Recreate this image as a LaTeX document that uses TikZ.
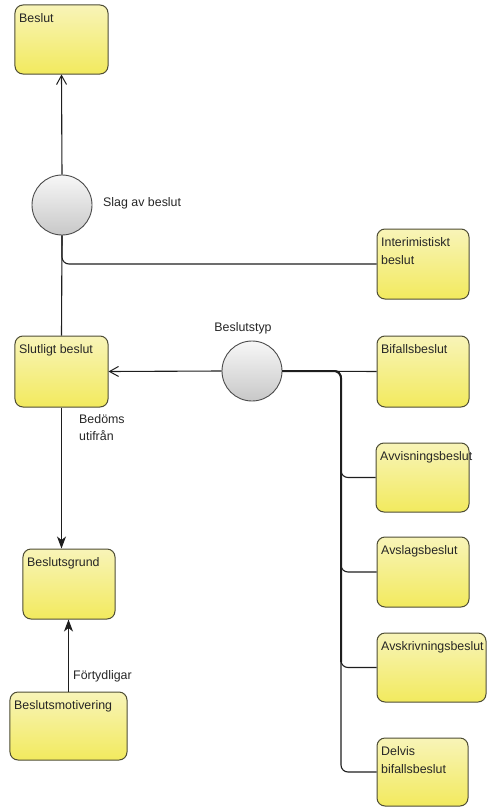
\documentclass[tikz,border=0pt]{standalone}
\usepackage{fontspec}
\setmainfont{Liberation Sans}
\usetikzlibrary{arrows.meta}
\definecolor{boxborder}{HTML}{4E4D35}
\definecolor{ylight}{HTML}{F8F4B8}
\definecolor{ydark}{HTML}{F2EA5E}
\definecolor{glight}{HTML}{F7F7F7}
\definecolor{gdark}{HTML}{C8C8C8}
\definecolor{linec}{HTML}{1E1E1E}
\tikzset{
  box/.style={draw=boxborder, line width=1bp, rounded corners=8bp,
    top color=ylight, bottom color=ydark, inner sep=0pt},
  choice/.style={circle, draw=linec!80, line width=0.9bp, minimum size=60bp,
    inner sep=0pt, top color=glight, bottom color=gdark},
  boxtext/.style={anchor=north west, inner sep=0pt, align=left,
    font=\fontsize{12.4bp}{17.5bp}\selectfont, text=black!85, xshift=4.5bp, yshift=-9bp},
  lbl/.style={inner sep=0pt, align=left, font=\fontsize{12.4bp}{17.5bp}\selectfont, text=black!85},
  conn/.style={draw=linec, line width=1.1bp},
  openarrow/.style={conn, -{Straight Barb[length=9bp, width=10bp, line width=1bp]}},
  filledarrow/.style={conn, -{Stealth[length=12bp, width=9bp, inset=3.5bp]}},
}
\begin{document}
\begin{tikzpicture}[x=1bp, y=-1bp]
\useasboundingbox (0,0) rectangle (487,807);

% boxes
\node[box, minimum width=93bp, minimum height=69bp,
  label={[boxtext]north west:Beslut}] (beslut) at (61.5,39.5) {};
\node[box, minimum width=92bp, minimum height=70bp,
  label={[boxtext]north west:Interimistiskt\\beslut}] (interim) at (423,264) {};
\node[box, minimum width=93bp, minimum height=71bp,
  label={[boxtext]north west:Slutligt beslut}] (slut) at (61.5,371.5) {};
\node[box, minimum width=92bp, minimum height=71bp,
  label={[boxtext]north west:Bifallsbeslut}] (bifall) at (423,371.5) {};
\node[box, minimum width=93bp, minimum height=69bp,
  label={[boxtext]north west:Avvisningsbeslut}] (avvis) at (422.5,477.5) {};
\node[box, minimum width=92bp, minimum height=70bp,
  label={[boxtext]north west:Avslagsbeslut}] (avslag) at (423,572) {};
\node[box, minimum width=109bp, minimum height=69bp,
  label={[boxtext]north west:Avskrivningsbeslut}] (avskriv) at (431.5,667.5) {};
\node[box, minimum width=91bp, minimum height=68bp,
  label={[boxtext]north west:Delvis\\bifallsbeslut}] (delvis) at (422.5,772) {};
\node[box, minimum width=92bp, minimum height=70bp,
  label={[boxtext]north west:Beslutsgrund}] (grund) at (69,584) {};
\node[box, minimum width=117bp, minimum height=68bp,
  label={[boxtext]north west:Beslutsmotivering}] (motiv) at (68.5,726) {};

% choice circles
\node[choice] (slag) at (62,205) {};
\node[choice] (typ) at (252,371) {};

% labels
\node[lbl, anchor=west] (slaglbl) at (103,203) {Slag av beslut};
\node[lbl] (typlbl) at (243,328) {Beslutstyp};
\node[lbl, anchor=north west] (bedlbl) at (79,414) {Bedöms\\utifrån};
\node[lbl, anchor=west] (fortlbl) at (73,676) {Förtydligar};

% connectors
\draw[openarrow] (slag.north) -- (beslut.south);
\draw[conn] (slut.north) -- (slag.south);
\draw[conn, rounded corners=7bp] (slag.south) |- (interim.west);
\draw[openarrow] (typ.west) -- (slut.east);

\coordinate (trunk) at (341,371);
\draw[conn] (typ.east) -- (bifall.west);
\draw[conn, line width=2bp, rounded corners=7bp] (typ.east) -- (trunk) -- (341,662);
\draw[conn, rounded corners=7bp] (typ.east) -- (trunk) |- (avvis.west);
\draw[conn, rounded corners=7bp] (typ.east) -- (trunk) |- (avslag.west);
\draw[conn, rounded corners=7bp] (typ.east) -- (trunk) |- (avskriv.west);
\draw[conn, rounded corners=7bp] (typ.east) -- (trunk) |- (delvis.west);

\draw[filledarrow] (slut.south) -- (slut.south |- grund.north);
\draw[filledarrow] (motiv.north) -- (motiv.north |- grund.south);
\end{tikzpicture}
\end{document}
